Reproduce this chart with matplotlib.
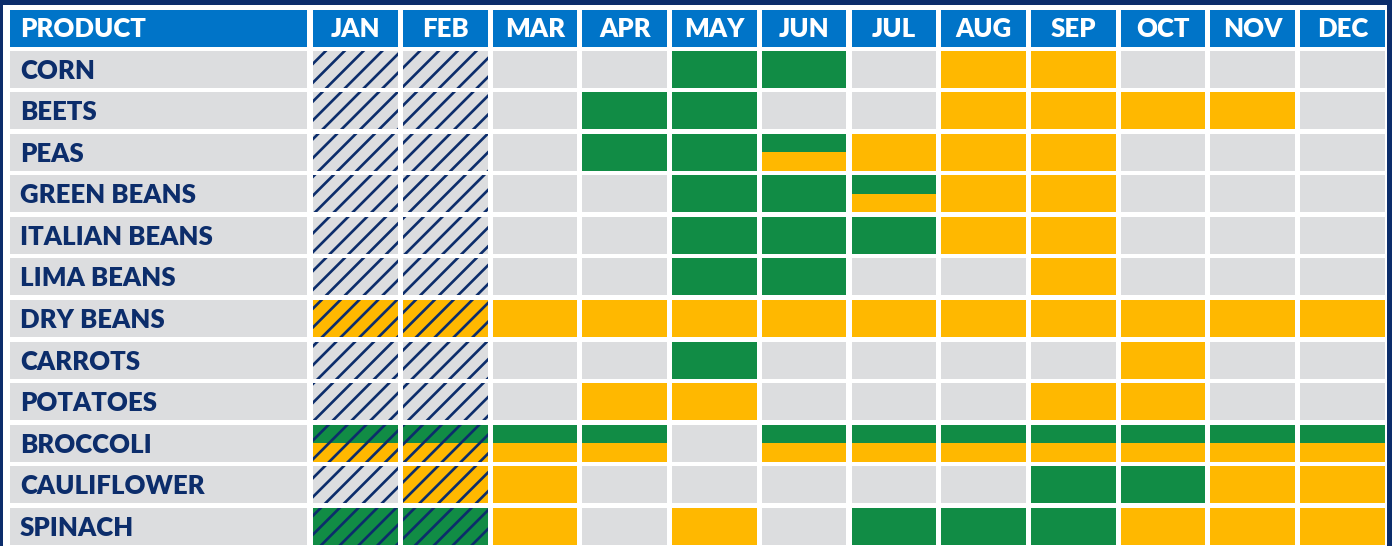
import matplotlib.pyplot as plt
from matplotlib.patches import Rectangle

products = ["CORN", "BEETS", "PEAS", "GREEN BEANS", "ITALIAN BEANS", "LIMA BEANS",
            "DRY BEANS", "CARROTS", "POTATOES", "BROCCOLI", "CAULIFLOWER", "SPINACH"]
months = ["JAN", "FEB", "MAR", "APR", "MAY", "JUN",
          "JUL", "AUG", "SEP", "OCT", "NOV", "DEC"]

# one letter per month: G = green, Y = yellow, B = both (green over yellow), - = none
availability = [
    "----GG-YY---",
    "---GG--YYYY-",
    "---GGBYYY---",
    "----GGBYY---",
    "----GGGYY---",
    "----GG--Y---",
    "YYYYYYYYYYYY",
    "----G----Y--",
    "---YY---YY--",
    "BBBB-BBBBBBB",
    "-YY-----GGYY",
    "GGY-Y-GGGYYY",
]
hatched_months = ["JAN", "FEB"]

navy = "#0c2d6b"
blue = "#0074c8"
gray = "#dcdddf"
green = "#118c45"
yellow = "#ffb800"
fills = {"-": gray, "G": green, "Y": yellow}

# dpi 113 makes the "//" hatch period about 9.4 px, like the reference
dpi = 113
plt.rcParams["hatch.linewidth"] = 1.7

fig = plt.figure(figsize=(1392 / dpi, 546 / dpi), dpi=dpi)
fig.patch.set_facecolor(navy)
ax = fig.add_axes([0, 0, 1, 1])
ax.set_xlim(0, 1392)
ax.set_ylim(546, 0)
ax.axis("off")

# white sheet inside the navy frame
ax.add_patch(Rectangle((3, 5), 1384, 560, facecolor="white", linewidth=0))

col_left, col_pitch, col_w = 313.3, 89.7, 84.6
name_left, name_w = 10, 297.3
head_top, head_h = 10, 36.7
row_top, row_pitch, row_h = 50.7, 41.55, 37
font = dict(family=["Lato", "DejaVu Sans"], fontsize=16.4, fontweight="heavy")


def cell(x, y, w, h, color, hatch):
    if hatch:
        ax.add_patch(Rectangle((x, y), w, h, facecolor=color, edgecolor=navy,
                               hatch="//", linewidth=0))
    else:
        ax.add_patch(Rectangle((x, y), w, h, facecolor=color, linewidth=0))


# header
ax.add_patch(Rectangle((name_left, head_top), name_w, head_h, facecolor=blue, linewidth=0))
ax.text(name_left + 10, head_top + head_h / 2 + 9, "PRODUCT", color="white",
        va="baseline", ha="left", **font)
for j, m in enumerate(months):
    x = col_left + j * col_pitch
    ax.add_patch(Rectangle((x, head_top), col_w, head_h, facecolor=blue, linewidth=0))
    ax.text(x + col_w / 2, head_top + head_h / 2 + 9, m, color="white",
            va="baseline", ha="center", **font)

# body
for i, (name, row) in enumerate(zip(products, availability)):
    y = row_top + i * row_pitch
    ax.add_patch(Rectangle((name_left, y), name_w, row_h, facecolor=gray, linewidth=0))
    ax.text(name_left + 10, y + row_h / 2 + 9.5, name, color=navy,
            va="baseline", ha="left", **font)
    for j, code in enumerate(row):
        x = col_left + j * col_pitch
        hatch = months[j] in hatched_months
        if code == "B":
            cell(x, y, col_w, row_h / 2, green, hatch)
            cell(x, y + row_h / 2, col_w, row_h / 2, yellow, hatch)
        else:
            cell(x, y, col_w, row_h, fills[code], hatch)

fig.savefig("out.png", dpi=dpi, facecolor=fig.get_facecolor())
